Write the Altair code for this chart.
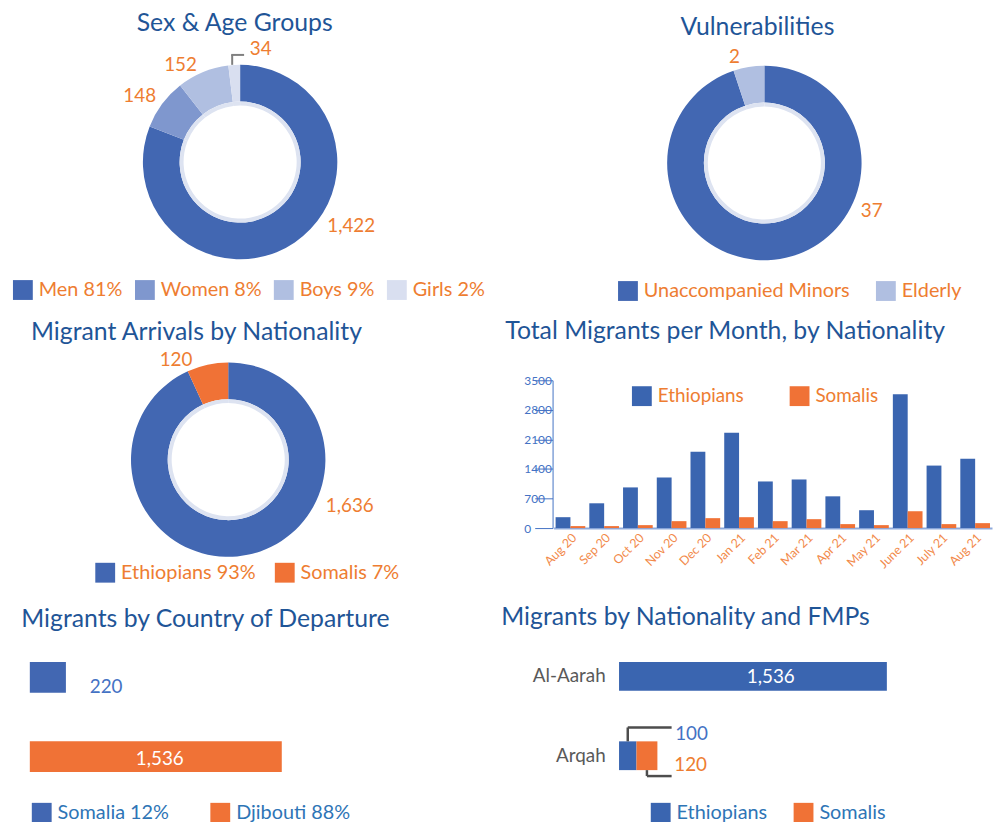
import altair as alt
import pandas as pd

FONT = "Lato"
BLUE = "#4267B2"
BLUE_BAR = "#3A65B0"
ORANGE = "#F07236"
TXT_OR = "#EE7D31"
TITLE_C = "#1F5597"
LEG_BLUE = "#2E75B6"
NUM_BLUE = "#4472C4"
GRAY = "#595959"

W, H = 993, 814

# ---------------- data ----------------
titles = [
    "Sex & Age Groups",
    "Vulnerabilities",
    "Migrant Arrivals by Nationality",
    "Total Migrants per Month, by Nationality",
    "Migrants by Country of Departure",
    "Migrants by Nationality and FMPs",
]

sex_groups = ["Men", "Women", "Boys", "Girls"]
sex_values = [1422, 148, 152, 34]
sex_share = [81, 8, 9, 2]

vuln_groups = ["Unaccompanied Minors", "Elderly"]
vuln_values = [37, 2]

nationalities = ["Ethiopians", "Somalis"]
nat_values = [1636, 120]
nat_share = [93, 7]

months = ["Aug 20", "Sep 20", "Oct 20", "Nov 20", "Dec 20", "Jan 21", "Feb 21",
          "Mar 21", "Apr 21", "May 21", "June 21", "July 21", "Aug 21"]
eth_monthly = [258, 587, 963, 1198, 1809, 2255, 1104, 1151, 752, 423, 3171, 1480, 1644]
som_monthly = [47, 47, 70, 164, 235, 258, 164, 211, 94, 70, 399, 94, 117]

dep_countries = ["Somalia", "Djibouti"]
dep_values = [220, 1536]
dep_share = [12, 88]

fmp_points = ["Al-Aarah", "Arqah"]
fmp_eth = [1536, 100]
fmp_som = [0, 120]


# ---------------- helpers ----------------
def legend(x, y, color, colpad, n, size=20):
    return alt.Legend(orient="none", legendX=x, legendY=y, direction="horizontal",
                      columns=n, title=None, symbolType="square", symbolSize=400,
                      symbolStrokeWidth=0, symbolOpacity=1, labelFont=FONT,
                      labelFontSize=size, labelColor=color, labelOffset=6,
                      columnPadding=colpad, labelLimit=400, padding=0)


def title_layer(text, x, y):
    return alt.Chart(pd.DataFrame({"t": [text]})).mark_text(
        font=FONT, fontSize=25, color=TITLE_C, align="center", baseline="alphabetic"
    ).encode(text="t:N", x=alt.value(x), y=alt.value(y))


def donut(cats, vals, labels, colors, cx, cy, leg, nudges, r_lab=120):
    df = pd.DataFrame({"cat": cats, "value": vals,
                       "idx": list(range(len(cats))), "lab": labels})
    theta = alt.Theta("value:Q", stack=True)
    arc = alt.Chart(df).mark_arc(radius=98, radius2=61).encode(
        theta=theta, order=alt.Order("idx:Q"),
        color=alt.Color("lab:N", scale=alt.Scale(domain=labels, range=colors), legend=leg),
        x=alt.value(cx), y=alt.value(cy))
    ring = alt.Chart(df).mark_arc(radius=61, radius2=57, color="#DDE3F1").encode(
        theta=theta, order=alt.Order("idx:Q"), x=alt.value(cx), y=alt.value(cy))
    base = alt.Chart(df).transform_joinaggregate(total="sum(value)").transform_window(
        cum="sum(value)", sort=[alt.SortField("idx")], frame=[None, 0]
    ).transform_calculate(ang="2 * PI * (datum.cum - datum.value / 2) / datum.total")
    texts = []
    for cat, (dx, dy) in nudges.items():
        texts.append(base.transform_filter(alt.datum.cat == cat).mark_text(
            radius=r_lab, dx=dx, dy=dy, font=FONT, fontSize=19, color=TXT_OR,
            baseline="middle", align="center"
        ).encode(theta=alt.Theta("ang:Q", scale=None, stack=False),
                 text=alt.Text("value:Q", format=","),
                 x=alt.value(cx), y=alt.value(cy)))
    return [arc, ring] + texts


layers = []

# titles
title_pos = [(228.5, 20), (755.5, 24), (190, 331), (723, 330), (199, 621), (683, 619)]
for t, (x, y) in zip(titles, title_pos):
    layers.append(title_layer(t, x, y))

# ---------- panel 1: sex & age ----------
sex_labels = [f"{g} {p}%" for g, p in zip(sex_groups, sex_share)]
layers += donut(sex_groups, sex_values, sex_labels,
                [BLUE, "#7F97CE", "#B0BFE1", "#D9DFF0"], 234, 152,
                legend(5, 271, TXT_OR, 12, 4),
                {"Men": (44.5, -35), "Women": (-5, 5), "Boys": (-14, 13), "Girls": (28, 6)})
lead1 = pd.DataFrame({"k": [0]})
layers.append(alt.Chart(lead1).mark_rule(color="#7F7F7F", strokeWidth=2).encode(
    x=alt.value(226), y=alt.value(54), y2=alt.value(44)))
layers.append(alt.Chart(lead1).mark_rule(color="#7F7F7F", strokeWidth=2).encode(
    x=alt.value(225), x2=alt.value(238), y=alt.value(44)))

# ---------- panel 2: vulnerabilities ----------
layers += donut(vuln_groups, vuln_values, vuln_groups, [BLUE, "#B0BFE1"], 762.5, 153,
                legend(615, 272, TXT_OR, 26, 2),
                {"Unaccompanied Minors": (89, -70), "Elderly": (-11, 12)})

# ---------- panel 3: arrivals by nationality ----------
nat_labels = [f"{n} {p}%" for n, p in zip(nationalities, nat_share)]
layers += donut(nationalities, nat_values, nat_labels, [BLUE, ORANGE], 222, 452,
                legend(88, 556, TXT_OR, 19, 2),
                {"Ethiopians": (97, -70), "Somalis": (-27, 17)})

# ---------- panel 4: monthly bars ----------
month_df = pd.DataFrame({
    "month": months * 2,
    "nat": [nationalities[0]] * len(months) + [nationalities[1]] * len(months),
    "value": eth_monthly + som_monthly,
})
layers.append(alt.Chart(month_df).mark_bar().encode(
    x=alt.X("month:N", sort=months,
            scale=alt.Scale(domain=months, range=[550, 992], paddingInner=0.12, paddingOuter=0.06),
            axis=alt.Axis(orient="bottom", offset=529 - 8 - H, title=None, labelAngle=-45,
                          labelColor="#F28A4B", labelFont=FONT, labelFontSize=12.5,
                          domainColor="#8FAADC", domainWidth=2, ticks=False, labelPadding=3)),
    xOffset=alt.XOffset("nat:N", scale=alt.Scale(domain=nationalities)),
    y=alt.Y("value:Q", scale=alt.Scale(domain=[0, 3500], range=[521, 372], nice=False),
            axis=alt.Axis(orient="left", offset=-549, title=None,
                          values=[0, 700, 1400, 2100, 2800, 3500], format="d",
                          labelAlign="left", labelPadding=11, tickSize=18,
                          tickColor=NUM_BLUE, domainColor=NUM_BLUE, labelColor=NUM_BLUE,
                          labelFont=FONT, labelFontSize=12, grid=False)),
    color=alt.Color("nat:N", scale=alt.Scale(domain=nationalities, range=[BLUE_BAR, ORANGE]),
                    legend=legend(629, 378, TXT_OR, 46, 2, size=19)),
))

# ---------- panel 5: country of departure ----------
dep_labels = [f"{c} {p}%" for c, p in zip(dep_countries, dep_share)]
dep_df = pd.DataFrame({"cat": dep_countries, "value": dep_values, "lab": dep_labels})
xs5 = alt.Scale(domain=[0, 1536], range=[22, 276], nice=False)
ys5 = alt.Scale(type="band", domain=dep_countries, range=[656, 767],
                paddingInner=0.6125, paddingOuter=0)
layers.append(alt.Chart(dep_df).mark_bar().encode(
    x=alt.X("value:Q", scale=xs5, axis=None),
    y=alt.Y("cat:N", scale=ys5, axis=None),
    color=alt.Color("lab:N", scale=alt.Scale(domain=dep_labels, range=[BLUE, ORANGE]),
                    legend=legend(24, 798, LEG_BLUE, 41, 2)),
))
layers.append(alt.Chart(dep_df).transform_filter(alt.datum.cat == dep_countries[0]).mark_text(
    align="left", baseline="middle", dx=24, dy=10, font=FONT, fontSize=19, color=NUM_BLUE).encode(
    x=alt.X("value:Q", scale=xs5, axis=None), y=alt.Y("cat:N", scale=ys5, axis=None),
    text=alt.Text("value:Q", format=",")))
layers.append(alt.Chart(dep_df).transform_filter(alt.datum.cat == dep_countries[1]).transform_calculate(
    mid="datum.value / 2").mark_text(
    align="center", baseline="middle", dx=4, dy=2, font=FONT, fontSize=19, color="white").encode(
    x=alt.X("mid:Q", scale=xs5, axis=None), y=alt.Y("cat:N", scale=ys5, axis=None),
    text=alt.Text("value:Q", format=",")))

# ---------- panel 6: nationality by FMP ----------
fmp_df = pd.DataFrame({
    "point": fmp_points * 2,
    "nat": [nationalities[0]] * 2 + [nationalities[1]] * 2,
    "idx": [0, 0, 1, 1],
    "value": fmp_eth + fmp_som,
})
xs6 = alt.Scale(domain=[0, 1536], range=[616, 886], nice=False)
ys6 = alt.Scale(type="band", domain=fmp_points, range=[656, 765],
                paddingInner=0.6375, paddingOuter=0)
layers.append(alt.Chart(fmp_df).mark_bar().encode(
    x=alt.X("value:Q", stack="zero", scale=xs6, axis=None),
    y=alt.Y("point:N", scale=ys6,
            axis=alt.Axis(orient="left", offset=-616, title=None, domain=False, ticks=False,
                          tickSize=0, labelPadding=14, labelFont=FONT, labelFontSize=19,
                          labelColor=GRAY)),
    color=alt.Color("nat:N", scale=alt.Scale(domain=nationalities, range=[BLUE_BAR, ORANGE]),
                    legend=legend(648, 798, LEG_BLUE, 26, 2)),
    order=alt.Order("idx:Q"),
))
base6 = alt.Chart(fmp_df).transform_window(
    cum="sum(value)", groupby=["point"], sort=[alt.SortField("idx")], frame=[None, 0]
).transform_calculate(mid="datum.cum - datum.value / 2")


def sel(p, n):
    return base6.transform_filter((alt.datum.point == p) & (alt.datum.nat == n))


enc_y6 = alt.Y("point:N", scale=ys6, axis=None)
layers.append(sel(fmp_points[0], nationalities[0]).mark_text(
    align="center", baseline="middle", dx=18, dy=1, font=FONT, fontSize=19, color="white").encode(
    x=alt.X("mid:Q", scale=xs6, axis=None), y=enc_y6, text=alt.Text("value:Q", format=",")))
layers.append(sel(fmp_points[1], nationalities[0]).mark_text(
    align="left", baseline="middle", dx=39, dy=-22, font=FONT, fontSize=19, color=NUM_BLUE).encode(
    x=alt.X("cum:Q", scale=xs6, axis=None), y=enc_y6, text=alt.Text("value:Q", format=",")))
layers.append(sel(fmp_points[1], nationalities[1]).mark_text(
    align="left", baseline="middle", dx=17, dy=9, font=FONT, fontSize=19, color=TXT_OR).encode(
    x=alt.X("cum:Q", scale=xs6, axis=None), y=enc_y6, text=alt.Text("value:Q", format=",")))
# leader lines
LC = "#4D4D4D"
layers.append(sel(fmp_points[1], nationalities[0]).mark_rule(color=LC, strokeWidth=2.5).encode(
    x=alt.X("mid:Q", scale=xs6, axis=None), y=alt.value(736), y2=alt.value(722)))
layers.append(sel(fmp_points[1], nationalities[0]).mark_rule(color=LC, strokeWidth=2.5).encode(
    x=alt.X("mid:Q", scale=xs6, axis=None), x2=alt.value(669), y=alt.value(722)))
layers.append(sel(fmp_points[1], nationalities[1]).mark_rule(color=LC, strokeWidth=2.5).encode(
    x=alt.X("mid:Q", scale=xs6, axis=None), y=alt.value(765), y2=alt.value(771)))
layers.append(sel(fmp_points[1], nationalities[1]).mark_rule(color=LC, strokeWidth=2.5).encode(
    x=alt.X("mid:Q", scale=xs6, axis=None), x2=alt.value(669), y=alt.value(771)))

chart = alt.layer(*layers).resolve_scale(
    x="independent", y="independent", color="independent", theta="independent"
).resolve_axis(x="independent", y="independent").resolve_legend(
    color="independent"
).properties(
    width=W, height=H, padding=0, autosize=alt.AutoSizeParams(type="none")
).configure_view(strokeWidth=0)

chart.save("out.html", embed_options={"renderer": "svg", "actions": False})
